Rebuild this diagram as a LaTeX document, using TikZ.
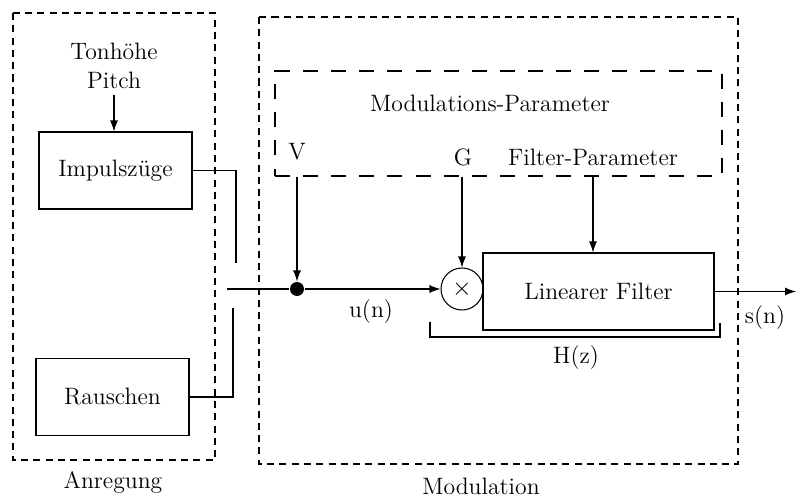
\documentclass[tikz,border=0pt]{standalone}
\usepackage{tikz}
\usetikzlibrary{arrows.meta}

\begin{document}
\begin{tikzpicture}[
  x=0.02cm,y=-0.02cm,
  >=Latex,font=\fontsize{13.5}{16.5}\selectfont,line width=0.6pt,
  sig/.style={-{Latex[length=2.2mm,width=1.6mm]}},
  block/.style={draw,minimum width=3.06cm,minimum height=1.54cm,inner sep=0pt},
  group/.style={draw,dash pattern=on 4pt off 3pt,line width=0.8pt},
  parbox/.style={draw,dash pattern=on 8.5pt off 7.5pt,line width=0.7pt}
]
  \useasboundingbox (0,0) rectangle (796,500);
  \draw[group] (13,13) rectangle (215,460);
  \draw[group] (259,17) rectangle (738,464);
  \node[parbox,minimum width=8.94cm,minimum height=2.1cm] (modpar) at (498.5,123.5) {};
  \node (anr) at (113,482) {Anregung};
  \node[inner sep=1pt] (mod) at (481,486) {Modulation};
  \node (mpl) at (490,103) {Modulations-Parameter};
  \node[align=center] (pitch) at (114,66) {Tonhöhe\\Pitch};
  \node[block] (imp) at (115.5,170.5) {Impulszüge};
  \node[block] (noise) at (112.5,397) {Rauschen};
  \node[block,minimum width=4.62cm] (filt) at (598.5,291.5) {Linearer Filter};
  \node[draw,circle,minimum size=0.84cm,inner sep=0pt] (mult) at (462,289) {$\times$};
  \node[circle,fill,minimum size=0.28cm,inner sep=0pt] (dot) at (297,289) {};
  \node (V) at (297,152) {V};
  \node (G) at (463,157) {G};
  \node (fp) at (593,157) {Filter-Parameter};
  \node (un) at (371,312) {u(n)};
  \node (sn) at (765,318) {s(n)};
  \node (hz) at (576,358) {H(z)};
  \coordinate (swA) at (236,263);
  \coordinate (swB) at (233,308);
  \coordinate (in) at (227,289);
  \coordinate (out) at (796,291.5);
  \draw[sig] (pitch.south) -- (pitch.south |- imp.north);
  \draw (imp.east) -| (swA);
  \draw (noise.east) -| (swB);
  \draw (in) -- (dot);
  \draw[sig] (dot) -- (mult);
  \draw[sig] (modpar.south -| dot) -- (dot);
  \draw[sig] (modpar.south -| mult) -- (mult);
  \draw[sig] (modpar.south -| fp) -- (fp |- filt.north);
  \draw[sig] (filt) -- (out);
  \draw (430,322) -- (430,337) -- (720,337) -- (720,323);
\end{tikzpicture}
\end{document}
